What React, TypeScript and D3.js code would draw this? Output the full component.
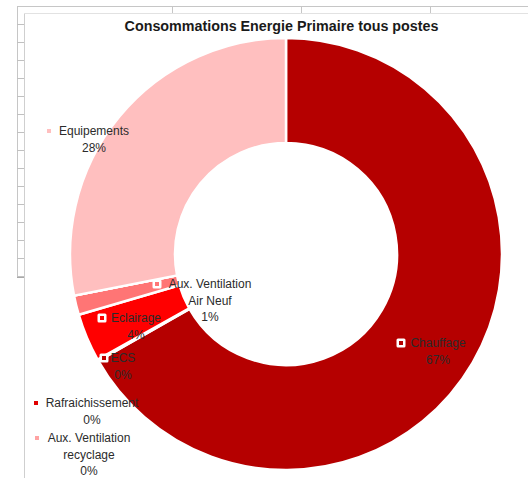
import React from "react";
import * as d3 from "d3";

const categories = [
  "Chauffage",
  "ECS",
  "Eclairage",
  "Aux. Ventilation Air Neuf",
  "Rafraichissement",
  "Aux. Ventilation recyclage",
  "Equipements",
];
const values = [66.8, 0.1, 3.6, 1.45, 0, 0, 28.1];
const percentLabels = ["67%", "0%", "4%", "1%", "0%", "0%", "28%"];
const labelLines = [
  ["Chauffage"],
  ["ECS"],
  ["Eclairage"],
  ["Aux. Ventilation", "Air Neuf"],
  ["Rafraichissement"],
  ["Aux. Ventilation", "recyclage"],
  ["Equipements"],
];
const title = "Consommations Energie Primaire tous postes";

// styling / layout (not data)
const colors = ["#B50000", "#C00000", "#FF0000", "#FF7575", "#E00000", "#FFA3A3", "#FFBFBF"];
const labelLayout = [
  { cx: 438, y: 343, mx: 401 },
  { cx: 123, y: 358, mx: 104 },
  { cx: 136, y: 318, mx: 102 },
  { cx: 210, y: 284, mx: 157 },
  { cx: 92, y: 403, mx: 36 },
  { cx: 89, y: 438, mx: 37 },
  { cx: 94, y: 131, mx: 49 },
];

const W = 528;
const H = 478;
const CX = 286;
const CY = 254;
const R_OUT = 216;
const R_IN = 111;
const FONT = "'Liberation Sans', Arial, sans-serif";

export default function App() {
  const pie = d3
    .pie<number>()
    .sort(null)
    .startAngle(0)
    .endAngle(2 * Math.PI)
    .value((d) => d);
  const arcs = pie(values);
  const arcGen = d3.arc<d3.PieArcDatum<number>>().innerRadius(R_IN).outerRadius(R_OUT);

  const rowTicks = d3.range(24, 278, 18);
  const colTicks = [172, 301, 430];

  return (
    <svg
      width={W}
      height={H}
      style={{ position: "absolute", left: 0, top: 0, background: "#fff" }}
      fontFamily={FONT}
    >
      {/* spreadsheet frame */}
      <g shapeRendering="crispEdges">
        <line x1={17} y1={6.5} x2={W} y2={6.5} stroke="#c6c6c6" />
        <line x1={17.5} y1={6} x2={17.5} y2={277} stroke="#c6c6c6" />
        <line x1={24.5} y1={13} x2={24.5} y2={H} stroke="#cfcfcf" />
        <line x1={24} y1={13.5} x2={W} y2={13.5} stroke="#e2e2e2" />
        {rowTicks.map((y) => (
          <line key={y} x1={17} y1={y + 0.5} x2={24} y2={y + 0.5} stroke="#c0c0c0" />
        ))}
        <line x1={17} y1={277.5} x2={24} y2={277.5} stroke="#a8a8a8" />
        {colTicks.map((x) => (
          <line key={x} x1={x + 0.5} y1={6} x2={x + 0.5} y2={13} stroke="#c6c6c6" />
        ))}
      </g>

      <text
        x={281.5}
        y={31}
        textAnchor="middle"
        fontSize={14.3}
        fontWeight="bold"
        fill="#1a1a1a"
      >
        {title}
      </text>

      <g transform={`translate(${CX},${CY})`}>
        {arcs.map((a, i) => (
          <path
            key={categories[i]}
            d={arcGen(a) || ""}
            fill={colors[i]}
            stroke="#ffffff"
            strokeWidth={2.5}
            strokeLinejoin="round"
          />
        ))}
      </g>

      {categories.map((c, i) => {
        const L = labelLayout[i];
        const lines = [...labelLines[i], percentLabels[i]];
        return (
          <g key={c}>
            <rect x={L.mx - 4.5} y={L.y - 4.5} width={9} height={9} rx={1.5} fill="#ffffff" />
            <rect x={L.mx - 2} y={L.y - 2} width={4} height={4} fill={colors[i]} />
            {lines.map((t, j) => (
              <text
                key={j}
                x={L.cx}
                y={L.y + j * 16.3}
                dy="0.35em"
                textAnchor="middle"
                fontSize={12}
                fill="#2b2b2b"
              >
                {t}
              </text>
            ))}
          </g>
        );
      })}
    </svg>
  );
}
